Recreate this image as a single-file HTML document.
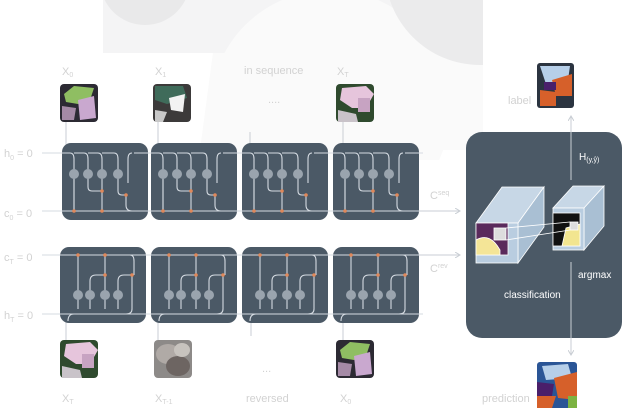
<!DOCTYPE html>
<html><head><meta charset="utf-8"><style>
html,body{margin:0;padding:0;background:#fff;}
body{width:628px;height:408px;overflow:hidden;font-family:"Liberation Sans",sans-serif;}
</style></head><body>
<svg width="628" height="408" viewBox="0 0 628 408" xmlns="http://www.w3.org/2000/svg" font-family="Liberation Sans, sans-serif">
<defs>
<clipPath id="bgc"><rect x="103" y="0" width="380" height="160"/></clipPath>
<g id="cellT">
  <rect x="0" y="0" width="86" height="77" rx="9" fill="#4b5966"/>
  <g stroke="#d5dbe2" stroke-width="1.1" fill="none">
    <path d="M-4 10 H8 Q12 10 12 16 V68"/>
    <path d="M12 10 H22 Q26 10 26 16 V28"/>
    <path d="M26 10 H36 Q40 10 40 16 V28"/>
    <path d="M40 10 H52 Q56 10 56 16 V28"/>
    <path d="M12 34 V68"/>
    <path d="M26 34 V44 Q26 48 30 48 H40"/>
    <path d="M40 34 V68"/>
    <path d="M56 34 V48 Q56 52 60 52 H64"/>
    <path d="M-4 68 H90"/>
    <path d="M64 52 V62 Q64 68 70 68"/>
    <path d="M70 10 Q66 10 66 16"/>
    <path d="M72 10 H90"/>
    <path d="M66 16 V40"/>
  </g>
  <g fill="#9aa4ae"><circle cx="12" cy="31" r="5"/><circle cx="26" cy="31" r="5"/><circle cx="40" cy="31" r="5"/><circle cx="56" cy="31" r="5"/></g>
  <g fill="#e0885a"><circle cx="12" cy="68" r="1.8"/><circle cx="40" cy="68" r="1.8"/><circle cx="40" cy="48" r="1.8"/><circle cx="64" cy="52" r="1.8"/></g>
</g>
<g id="cellB">
  <rect x="0" y="0" width="86" height="76" rx="9" fill="#4b5966"/>
  <g stroke="#d5dbe2" stroke-width="1.1" fill="none">
    <path d="M-4 8 H90"/>
    <path d="M-4 67 H90"/>
    <path d="M18 8 V62"/>
    <path d="M45 8 V62"/>
    <path d="M30 62 V34 Q30 28 36 28 H45"/>
    <path d="M58 62 V34 Q58 28 64 28 H72"/>
    <path d="M70 8 Q74 8 74 14 V28"/>
    <path d="M72 28 V62 Q72 67 66 67"/>
    <path d="M8 74 Q8 67 14 67"/>
  </g>
  <g fill="#9aa4ae"><circle cx="18" cy="48" r="5"/><circle cx="30" cy="48" r="5"/><circle cx="45" cy="48" r="5"/><circle cx="58" cy="48" r="5"/></g>
  <g fill="#e0885a"><circle cx="18" cy="8" r="1.8"/><circle cx="45" cy="8" r="1.8"/><circle cx="45" cy="28" r="1.8"/><circle cx="72" cy="28" r="1.8"/></g>
</g>
<g id="thumbA">
  <rect width="38" height="38" rx="4" fill="#2c2a33"/>
  <path d="M4 10 L14 2 L34 4 L30 16 L18 20 L6 18Z" fill="#8fbe62"/>
  <path d="M18 16 L34 12 L36 34 L20 36Z" fill="#c9a8cf"/>
  <path d="M2 22 L16 24 L14 36 L2 36Z" fill="#a58aa6"/>
</g>
<g id="thumbB">
  <rect width="38" height="38" rx="4" fill="#3c3a3a"/>
  <path d="M2 2 L30 2 L34 14 L14 20 L2 16Z" fill="#3f6b5a"/>
  <path d="M16 14 L32 10 L30 28 L18 26Z" fill="#f2f2f2"/>
  <path d="M2 26 L14 28 L10 38 L2 38Z" fill="#c8c8c8"/>
</g>
<g id="thumbC">
  <rect width="38" height="38" rx="4" fill="#2f4a2e"/>
  <path d="M6 4 L30 2 L38 10 L30 24 L16 24 L4 16Z" fill="#e6c5dc"/>
  <path d="M2 26 L20 30 L22 38 L2 38Z" fill="#c9c3c9"/>
  <rect x="22" y="14" width="12" height="14" fill="#c7a3c2"/>
</g>
<g id="thumbD">
  <rect width="38" height="38" rx="4" fill="#8d8a88"/>
  <ellipse cx="14" cy="14" rx="12" ry="10" fill="#b0aaa6"/>
  <ellipse cx="24" cy="26" rx="12" ry="10" fill="#6d6562"/>
  <ellipse cx="28" cy="10" rx="8" ry="7" fill="#c7c3be"/>
</g>
<marker id="ar" markerWidth="6" markerHeight="6" refX="5" refY="3" orient="auto"><path d="M0 0 L5 3 L0 6" fill="none" stroke="#c9ced4" stroke-width="1"/></marker>
</defs>

<!-- faint background shape -->
<g clip-path="url(#bgc)">
  <path d="M200 150 L483 150 L483 0 L220 0Z" fill="#fafafa"/>
  <rect x="103" y="0" width="380" height="53" fill="#f4f4f5"/>
  <circle cx="145" cy="-20" r="45" fill="#e9e9ea"/>
  <circle cx="330" cy="110" r="120" fill="#fafafa"/>
  <circle cx="480" cy="-30" r="95" fill="#ebebec"/>
</g>

<!-- top labels -->
<g fill="#d2d2d2" font-size="11">
<text x="62" y="75">X<tspan font-size="7" dy="2">0</tspan></text>
<text x="155" y="75">X<tspan font-size="7" dy="2">1</tspan></text>
<text x="244" y="74">in sequence</text>
<text x="268" y="103">....</text>
<text x="337" y="75">X<tspan font-size="7" dy="2">T</tspan></text>
<text x="4" y="157">h<tspan font-size="7" dy="3">0</tspan><tspan dy="-3"> = 0</tspan></text>
<text x="4" y="217">c<tspan font-size="7" dy="3">0</tspan><tspan dy="-3"> = 0</tspan></text>
<text x="4" y="261">c<tspan font-size="7" dy="3">T</tspan><tspan dy="-3"> = 0</tspan></text>
<text x="4" y="319">h<tspan font-size="7" dy="3">T</tspan><tspan dy="-3"> = 0</tspan></text>
<text x="430" y="199">C<tspan font-size="7" dy="-4">seq</tspan></text>
<text x="430" y="272">C<tspan font-size="7" dy="-4">rev</tspan></text>
<text x="62" y="402">X<tspan font-size="7" dy="2">T</tspan></text>
<text x="155" y="402">X<tspan font-size="7" dy="2">T-1</tspan></text>
<text x="246" y="402">reversed</text>
<text x="262" y="372">...</text>
<text x="340" y="402">X<tspan font-size="7" dy="2">0</tspan></text>
<text x="508" y="104">label</text>
<text x="482" y="402">prediction</text>
</g>

<!-- thumbnails -->
<use href="#thumbA" x="60" y="84"/>
<use href="#thumbB" x="153" y="84"/>
<use href="#thumbC" x="336" y="84"/>
<use href="#thumbC" x="60" y="340"/>
<use href="#thumbD" x="154" y="340"/>
<use href="#thumbA" x="336" y="340"/>
<g stroke="#c9ced4" stroke-width="1"><line x1="66" y1="122" x2="66" y2="146"/><line x1="158" y1="122" x2="158" y2="146"/><line x1="250" y1="132" x2="250" y2="146"/><line x1="343" y1="122" x2="343" y2="146"/>
<line x1="66" y1="322" x2="66" y2="340"/><line x1="158" y1="322" x2="158" y2="340"/><line x1="251" y1="322" x2="251" y2="336"/><line x1="343" y1="322" x2="343" y2="340"/></g>

<!-- cells -->
<use href="#cellT" x="62" y="143"/>
<use href="#cellT" x="151" y="143"/>
<use href="#cellT" x="242" y="143"/>
<use href="#cellT" x="333" y="143"/>
<use href="#cellB" x="60" y="247"/>
<use href="#cellB" x="151" y="247"/>
<use href="#cellB" x="242" y="247"/>
<use href="#cellB" x="333" y="247"/>
<g stroke="#d5dbe2" stroke-width="1"><line x1="42" y1="153" x2="62" y2="153"/><line x1="42" y1="211" x2="62" y2="211"/><line x1="42" y1="255" x2="60" y2="255"/><line x1="42" y1="314" x2="60" y2="314"/></g>
<line x1="419" y1="211" x2="460" y2="211" stroke="#c9ced4" marker-end="url(#ar)"/>
<line x1="419" y1="255" x2="460" y2="255" stroke="#c9ced4" marker-end="url(#ar)"/>

<!-- classification -->
<rect x="466" y="132" width="156" height="206" rx="16" fill="#4b5966"/>
<line x1="571" y1="180" x2="571" y2="116" stroke="#c9ced4" marker-end="url(#ar)"/>
<line x1="571" y1="262" x2="571" y2="355" stroke="#c9ced4" marker-end="url(#ar)"/>
<text x="579" y="160" fill="#fff" font-size="10">H<tspan font-size="7" dy="2">(y,ŷ)</tspan></text>
<text x="578" y="278" fill="#fff" font-size="10">argmax</text>
<text x="504" y="298" fill="#fff" font-size="10">classification</text>
<g stroke="#fff" stroke-width="0.8">
<path d="M476 223 L502 187 L544 187 L518 223Z" fill="#c7d7e6"/>
<path d="M518 223 L544 187 L544 227 L518 263Z" fill="#a9bfd3"/>
<rect x="476" y="223" width="42" height="40" fill="#b9cde0"/>
<rect x="476" y="223" width="32" height="32" fill="#5a2a5c"/>
<path d="M476 240 Q490 232 500 250 L500 255 L476 255Z" fill="#f4e597"/>
<rect x="494" y="228" width="12" height="12" fill="#ddd"/>
</g>
<g stroke="#fff" stroke-width="0.8">
<path d="M553 208 L573 186 L604 186 L584 208Z" fill="#c7d7e6"/>
<path d="M584 208 L604 186 L604 226 L584 250Z" fill="#a9bfd3"/>
<rect x="553" y="208" width="31" height="42" fill="#b9cde0"/>
<rect x="553" y="213" width="27" height="33" fill="#111"/>
<path d="M562 246 L566 228 L580 224 L580 246Z" fill="#f2e590"/>
<rect x="570" y="222" width="8" height="8" fill="#ddd"/>
<line x1="506" y1="228" x2="570" y2="222"/><line x1="506" y1="240" x2="570" y2="230"/>
</g>

<rect x="537" y="63" width="37" height="45" rx="3" fill="#2b3440"/>
<path d="M540 66 L570 66 L568 80 L546 84 Z" fill="#b6cfe9"/>
<path d="M552 80 L572 74 L572 96 L556 96Z" fill="#d6602a"/>
<path d="M540 90 L556 92 L556 106 L540 106Z" fill="#d6602a"/>
<path d="M544 82 L556 82 L556 90 L544 90Z" fill="#4a1f6a"/>
<rect x="537" y="362" width="40" height="46" rx="3" fill="#2a5596"/>
<path d="M542 366 L568 364 L572 378 L546 380Z" fill="#b6cfe9"/>
<path d="M554 378 L577 372 L577 400 L558 398Z" fill="#d6602a"/>
<path d="M537 382 L554 384 L552 396 L537 396Z" fill="#4a1f6a"/>
<path d="M537 396 L556 396 L552 408 L537 408Z" fill="#d6602a"/>
<rect x="568" y="396" width="9" height="12" fill="#7cb342"/>
</svg>
</body></html>
